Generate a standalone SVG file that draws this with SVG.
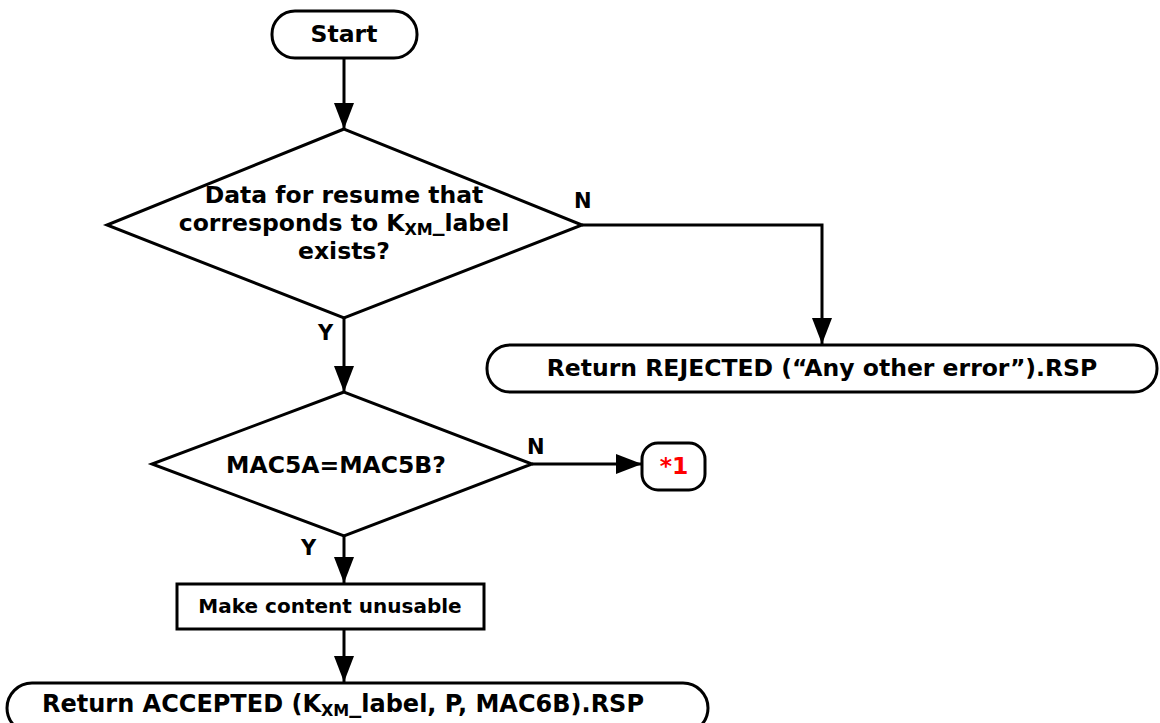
<svg xmlns="http://www.w3.org/2000/svg" width="1160" height="723" viewBox="0 0 1160 723">
<defs>
<marker id="arr" viewBox="0 0 26 20" refX="26" refY="10" markerWidth="26" markerHeight="20" markerUnits="userSpaceOnUse" orient="auto">
<path d="M0,0 L26,10 L0,20 Z" fill="#000"/>
</marker>
<style>
.s{fill:#fff;stroke:#000;stroke-width:3}
.c{fill:none;stroke:#000;stroke-width:3}
.t{font-family:"DejaVu Sans",Verdana,sans-serif;font-weight:bold;font-size:23.5px;fill:#000;text-anchor:middle}
.l{font-family:"DejaVu Sans",Verdana,sans-serif;font-weight:bold;font-size:21px;fill:#000}
.sub{font-size:16px}
</style>
</defs>
<rect width="1160" height="723" fill="#fff"/>
<g id="connectors">
<path class="c" d="M344,58 L344,129" marker-end="url(#arr)"/>
<path class="c" d="M582,225 L822,225 L822,344" marker-end="url(#arr)"/>
<path class="c" d="M344,318 L344,392" marker-end="url(#arr)"/>
<path class="c" d="M532,464 L642,464" marker-end="url(#arr)"/>
<path class="c" d="M344,536 L344,583" marker-end="url(#arr)"/>
<path class="c" d="M344,629 L344,682" marker-end="url(#arr)"/>
<text class="l" x="574" y="208">N</text>
<text class="l" x="318" y="340">Y</text>
<text class="l" x="527" y="454">N</text>
<text class="l" x="301" y="555">Y</text>
</g>
<g id="start">
<rect class="s" x="272" y="11" width="145" height="47" rx="23" ry="23"/>
<text class="t" x="344" y="42">Start</text>
</g>
<g id="decision1">
<polygon class="s" points="344,129 107,225 344,318 582,225"/>
<text class="t" x="344" y="203">Data for resume that</text>
<text class="t" x="344" y="231">corresponds to K<tspan class="sub" dy="4">XM</tspan><tspan dy="-4">_label</tspan></text>
<text class="t" x="344" y="259">exists?</text>
</g>
<g id="rejected">
<rect class="s" x="487" y="345" width="670" height="47" rx="23" ry="23"/>
<text class="t" x="822" y="376">Return REJECTED (“Any other error”).RSP</text>
</g>
<g id="decision2">
<polygon class="s" points="344,392 152,464 344,536 532,464"/>
<text class="t" x="336" y="473">MAC5A=MAC5B?</text>
</g>
<g id="ref1">
<rect class="s" x="642" y="443" width="63" height="47" rx="16" ry="16"/>
<text class="t" x="674" y="474" style="fill:#f00">*1</text>
</g>
<g id="process">
<rect class="s" x="177" y="584" width="307" height="45"/>
<text class="t" x="330" y="613" style="font-size:20px">Make content unusable</text>
</g>
<g id="accepted">
<rect class="s" x="7" y="683" width="701" height="50" rx="25" ry="25"/>
<text class="t" x="343" y="712" style="font-size:24px">Return ACCEPTED (K<tspan class="sub" dy="4">XM</tspan><tspan dy="-4">_label, P, MAC6B).RSP</tspan></text>
</g>
</svg>
